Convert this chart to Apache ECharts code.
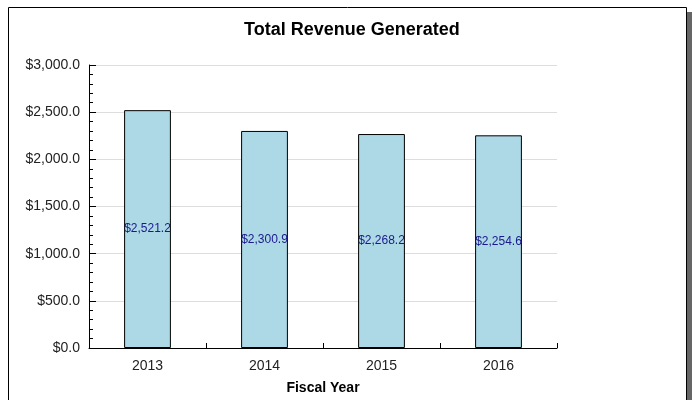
<!DOCTYPE html>
<html>
<head>
<meta charset="utf-8">
<script src="https://cdn.jsdelivr.net/npm/echarts@6/dist/echarts.min.js"></script>
<style>
  html, body { margin: 0; padding: 0; background: #fff; }
  #chart { width: 694px; height: 400px; }
</style>
</head>
<body>
<div id="chart"></div>
<script>
var years = ['2013', '2014', '2015', '2016']
var revenue = [2521.2, 2300.9, 2268.2, 2254.6]
var yTicks = [0, 500, 1000, 1500, 2000, 2500, 3000]

function money(v) {
  return '$' + Number(v).toLocaleString('en-US', { minimumFractionDigits: 1, maximumFractionDigits: 1 })
}

var myChart = echarts.init(document.getElementById('chart'))

var option = {
  backgroundColor: '#ffffff',
  animation: false,
  textStyle: { fontFamily: 'Liberation Sans, Arial, sans-serif' },
  graphic: [
    // drop shadow on the right of the frame
    { type: 'rect', z: -10, shape: { x: 687, y: 12, width: 5, height: 400 }, style: { fill: '#666666' } },
    // outer frame
    { type: 'rect', z: -9, shape: { x: 8.5, y: 7.5, width: 678, height: 400 }, style: { fill: '#ffffff', stroke: '#000000', lineWidth: 1 } }
  ],
  title: {
    text: 'Total Revenue Generated',
    left: 239,
    top: 16,
    textStyle: { fontSize: 18, fontWeight: 'bold', color: '#000', fontFamily: 'Liberation Sans, Arial, sans-serif' }
  },
  grid: {
    left: 89,
    right: 137,
    top: 65,
    bottom: 44,
    containLabel: false
  },
  xAxis: {
    type: 'category',
    data: years,
    name: 'Fiscal Year',
    nameLocation: 'middle',
    nameGap: 33,
    nameTextStyle: { fontSize: 14, fontWeight: 'bold', color: '#000' },
    axisLine: { lineStyle: { color: '#000', width: 1 } },
    axisTick: { show: true, inside: true, length: 5, lineStyle: { color: '#000' } },
    axisLabel: { color: '#222', fontSize: 14, margin: 11 },
    splitLine: { show: false }
  },
  yAxis: {
    type: 'value',
    min: yTicks[0],
    max: yTicks[yTicks.length - 1],
    interval: 500,
    axisLine: { show: true, lineStyle: { color: '#000', width: 1 } },
    axisTick: { show: true, inside: true, length: 7, lineStyle: { color: '#000' } },
    minorTick: { show: true, splitNumber: 5, length: 4, lineStyle: { color: '#000' } },
    axisLabel: {
      color: '#222',
      fontSize: 14,
      margin: 9,
      formatter: function(v) { return money(v) }
    },
    splitLine: { show: true, lineStyle: { color: '#dddddd', width: 1 } }
  },
  series: [{
    name: 'Revenue',
    type: 'bar',
    data: revenue,
    barWidth: '40%',
    itemStyle: {
      color: '#add8e6',
      borderColor: '#000000',
      borderWidth: 1
    },
    label: {
      show: true,
      position: 'inside',
      color: '#1a1a8c',
      fontSize: 12,
      formatter: function(p) { return money(p.value) }
    },
    z: 3
  }]
}

myChart.setOption(option)
window.addEventListener('resize', () => { myChart.resize() })
</script>
</body>
</html>
